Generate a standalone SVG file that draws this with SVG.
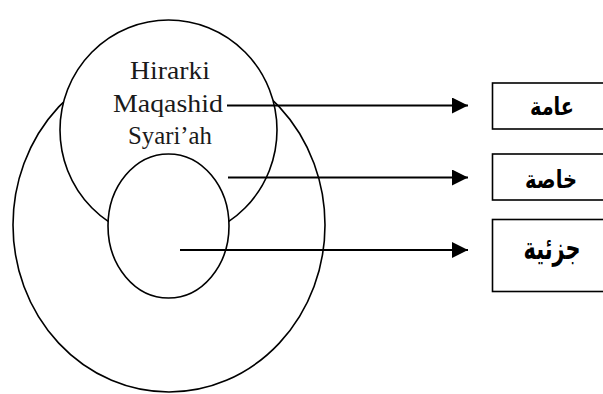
<svg xmlns="http://www.w3.org/2000/svg" width="603" height="394" viewBox="0 0 603 394">
<defs>
<style>
.shape{fill:#fff;stroke:#000;stroke-width:1.6}
.conn{stroke:#000;stroke-width:2;fill:none}
.box{fill:#fff;stroke:#000;stroke-width:1.6}
.lat{font-family:"Liberation Serif","DejaVu Serif",serif;font-size:25px;fill:#1a1a1a;text-anchor:middle}
.ar{font-family:"DejaVu Sans",sans-serif;font-weight:bold;fill:#000;text-anchor:middle}
</style>
<marker id="ah" viewBox="0 0 16 16" refX="16" refY="8" markerWidth="16" markerHeight="16" markerUnits="userSpaceOnUse" orient="auto">
<path d="M0,0 L16,8 L0,16 Z" fill="#000"/>
</marker>
</defs>
<rect width="603" height="394" fill="#fff"/>
<g id="outer"><ellipse class="shape" cx="169" cy="225" rx="156" ry="167"/></g>
<g id="hirarki">
<ellipse class="shape" cx="168.5" cy="130" rx="108.5" ry="110"/>
<text class="lat" x="170" y="79" textLength="80" lengthAdjust="spacingAndGlyphs">Hirarki</text>
<text class="lat" x="168" y="111.5" textLength="110" lengthAdjust="spacingAndGlyphs">Maqashid</text>
<text class="lat" x="170" y="144" textLength="84" lengthAdjust="spacingAndGlyphs">Syari’ah</text>
</g>
<g id="inner"><ellipse class="shape" cx="168.5" cy="226" rx="60.5" ry="72"/></g>
<g id="connectors">
<line class="conn" x1="227" y1="105.5" x2="468" y2="105.5" marker-end="url(#ah)"/>
<line class="conn" x1="228" y1="177.5" x2="468" y2="177.5" marker-end="url(#ah)"/>
<line class="conn" x1="180" y1="250" x2="468" y2="250" marker-end="url(#ah)"/>
</g>
<g id="amma">
<rect class="box" x="492.5" y="83" width="120" height="46"/>
<text class="ar" x="552" y="115" font-size="25" textLength="44" lengthAdjust="spacingAndGlyphs">عامة</text>
</g>
<g id="khassa">
<rect class="box" x="492.5" y="154" width="120" height="46"/>
<text class="ar" x="551" y="188" font-size="25" textLength="52" lengthAdjust="spacingAndGlyphs">خاصة</text>
</g>
<g id="juziyya">
<rect class="box" x="492.5" y="219.5" width="120" height="72"/>
<text class="ar" x="552" y="259" font-size="31" textLength="57" lengthAdjust="spacingAndGlyphs">جزئية</text>
</g>
</svg>
